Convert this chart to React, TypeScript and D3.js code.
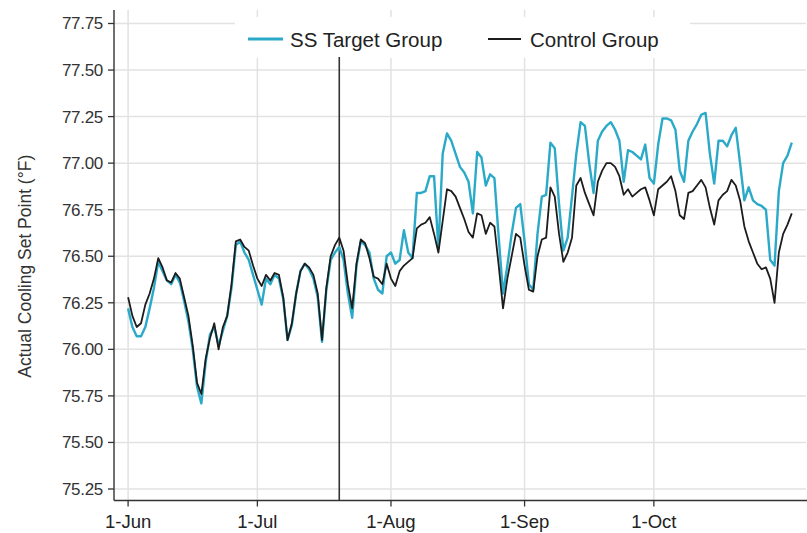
import React from 'react';
import * as d3 from 'd3';

const startDate = new Date(2018, 5, 1);

// daily means, 1 Jun onward
const targetGroup = [
  76.22, 76.12, 76.07, 76.07, 76.12, 76.22, 76.33, 76.47, 76.42, 76.37,
  76.35, 76.40, 76.36, 76.26, 76.15, 76.00, 75.80, 75.71, 75.93, 76.08,
  76.12, 76.02, 76.10, 76.18, 76.33, 76.56, 76.58, 76.52, 76.48, 76.40,
  76.32, 76.24, 76.38, 76.35, 76.40, 76.38, 76.27, 76.05, 76.13, 76.30,
  76.42, 76.46, 76.43, 76.38, 76.28, 76.04, 76.32, 76.48, 76.52, 76.55,
  76.48, 76.30, 76.17, 76.45, 76.58, 76.56, 76.52, 76.38, 76.32, 76.30,
  76.50, 76.52, 76.46, 76.48, 76.64, 76.52, 76.49, 76.84, 76.84, 76.85,
  76.93, 76.93, 76.54, 77.05, 77.16, 77.12, 77.05, 76.98, 76.95, 76.90,
  76.73, 77.06, 77.03, 76.88, 76.94, 76.92, 76.60, 76.30, 76.45, 76.62,
  76.76, 76.78, 76.58, 76.35, 76.32, 76.62, 76.82, 76.83, 77.11, 77.08,
  76.78, 76.53, 76.60, 76.82, 77.05, 77.22, 77.20, 77.00, 76.84, 77.12,
  77.17, 77.20, 77.22, 77.18, 77.12, 76.90, 77.07, 77.06, 77.04, 77.02,
  77.10, 76.92, 76.89, 77.10, 77.24, 77.24, 77.23, 77.18, 76.96, 76.90,
  77.12, 77.17, 77.21, 77.26, 77.27, 77.05, 76.89, 77.12, 77.12, 77.09,
  77.15, 77.19, 77.00, 76.80, 76.87, 76.80, 76.78, 76.77, 76.75, 76.48,
  76.45, 76.85, 77.00, 77.04, 77.11,
];

const controlGroup = [
  76.28, 76.18, 76.12, 76.14, 76.24, 76.30, 76.38, 76.49, 76.44, 76.37,
  76.36, 76.41, 76.38, 76.28, 76.18, 76.02, 75.82, 75.76, 75.95, 76.06,
  76.14, 76.00, 76.12, 76.18, 76.35, 76.58, 76.59, 76.55, 76.53, 76.45,
  76.38, 76.34, 76.40, 76.37, 76.41, 76.40, 76.28, 76.05, 76.14, 76.30,
  76.42, 76.46, 76.44, 76.40, 76.30, 76.05, 76.33, 76.50, 76.56, 76.60,
  76.53, 76.35, 76.22, 76.46, 76.59, 76.57, 76.49, 76.39, 76.38, 76.35,
  76.46, 76.38, 76.34, 76.42, 76.45, 76.47, 76.49, 76.65, 76.67, 76.68,
  76.71, 76.62, 76.52, 76.69, 76.86, 76.85, 76.82, 76.76, 76.70, 76.63,
  76.60, 76.73, 76.72, 76.62, 76.68, 76.66, 76.45, 76.22, 76.38, 76.50,
  76.62, 76.60, 76.45, 76.32, 76.31, 76.50, 76.59, 76.60, 76.87, 76.82,
  76.62, 76.47, 76.52, 76.60, 76.88, 76.92, 76.84, 76.78, 76.72, 76.90,
  76.96, 77.00, 77.00, 76.98, 76.93, 76.83, 76.86, 76.82, 76.84, 76.86,
  76.87, 76.80, 76.72, 76.86, 76.88, 76.90, 76.93, 76.85, 76.72, 76.70,
  76.84, 76.85, 76.88, 76.91, 76.87, 76.76, 76.67, 76.80, 76.83, 76.85,
  76.91, 76.88, 76.80, 76.66, 76.58, 76.52, 76.46, 76.43, 76.44, 76.38,
  76.25, 76.52, 76.62, 76.67, 76.73,
];

const yTicks = [75.25, 75.5, 75.75, 76.0, 76.25, 76.5, 76.75, 77.0, 77.25, 77.5, 77.75];
const monthTicks = [new Date(2018, 5, 1), new Date(2018, 6, 1), new Date(2018, 7, 1), new Date(2018, 8, 1), new Date(2018, 9, 1)];
const eventDate = new Date(2018, 6, 20);

const seriesNames = ['SS Target Group', 'Control Group'];
const seriesColors = ['#2aaac8', '#1c1c1c'];

const dayMs = 86400000;

const App: React.FC = () => {
  const width = 807;
  const height = 533;
  const left = 114;
  const right = 806;
  const top = 10;
  const bottom = 500.5;

  const x = d3.scaleTime()
    .domain([new Date(startDate.getTime() - 3.27 * dayMs), new Date(startDate.getTime() + 157.3 * dayMs)])
    .range([left, right]);

  const y = d3.scaleLinear()
    .domain([75.25, 77.75])
    .range([489, 23.5]);

  const dates = targetGroup.map((_, i) => d3.timeDay.offset(startDate, i));

  const line = d3.line<number>()
    .x((_, i) => x(dates[i]))
    .y(d => y(d));

  const fmt = d3.timeFormat('%-d-%b');
  const font = '"Liberation Sans", Arial, Helvetica, sans-serif';

  return (
    <svg width={width} height={height} style={{ display: 'block', position: 'absolute', left: 0, top: 0 }} fontFamily={font}>
      <rect x={0} y={0} width={width} height={height} fill="#fff" />

      {/* grid */}
      {yTicks.map(t => (
        <line key={t} x1={left} x2={right} y1={y(t)} y2={y(t)} stroke="#e2e2e2" strokeWidth={1.5} />
      ))}
      {monthTicks.map(t => (
        <line key={t.getTime()} x1={x(t)} x2={x(t)} y1={top} y2={bottom} stroke="#e2e2e2" strokeWidth={1.5} />
      ))}

      {/* legend box hides the grid behind it */}
      <rect x={235} y={17} width={455} height={41} fill="#fff" />

      {/* event marker */}
      <line x1={x(eventDate)} x2={x(eventDate)} y1={57} y2={bottom} stroke="#333" strokeWidth={1.6} />

      {/* series */}
      <path d={line(targetGroup) || undefined} fill="none" stroke={seriesColors[0]} strokeWidth={2.4} strokeLinejoin="round" />
      <path d={line(controlGroup) || undefined} fill="none" stroke={seriesColors[1]} strokeWidth={1.8} strokeLinejoin="round" />

      {/* axes */}
      <line x1={left} x2={left} y1={top} y2={bottom} stroke="#333" strokeWidth={1.4} />
      <line x1={left} x2={width} y1={bottom} y2={bottom} stroke="#333" strokeWidth={1.4} />
      {yTicks.map(t => (
        <g key={t}>
          <line x1={left - 6} x2={left} y1={y(t)} y2={y(t)} stroke="#333" strokeWidth={1.3} />
          <text x={left - 11} y={y(t)} dy="0.35em" textAnchor="end" fontSize={17} fill="#333" letterSpacing={-0.3}>
            {t.toFixed(2)}
          </text>
        </g>
      ))}
      {monthTicks.map(t => (
        <g key={t.getTime()}>
          <line x1={x(t)} x2={x(t)} y1={bottom} y2={bottom + 6} stroke="#333" strokeWidth={1.3} />
          <text x={x(t)} y={bottom + 27} textAnchor="middle" fontSize={18.5} fill="#222">
            {fmt(t)}
          </text>
        </g>
      ))}

      <text transform={`translate(31,${(top + bottom) / 2 + 11}) rotate(-90)`} textAnchor="middle" fontSize={17.5} fill="#333">
        Actual Cooling Set Point (°F)
      </text>

      {/* legend */}
      <line x1={248} x2={283} y1={39} y2={39} stroke={seriesColors[0]} strokeWidth={2.8} />
      <text x={290} y={46.5} fontSize={20.5} fill="#222">{seriesNames[0]}</text>
      <line x1={488} x2={521} y1={39} y2={39} stroke={seriesColors[1]} strokeWidth={2.2} />
      <text x={530} y={46.5} fontSize={20.5} fill="#222">{seriesNames[1]}</text>
    </svg>
  );
};

export default App;
